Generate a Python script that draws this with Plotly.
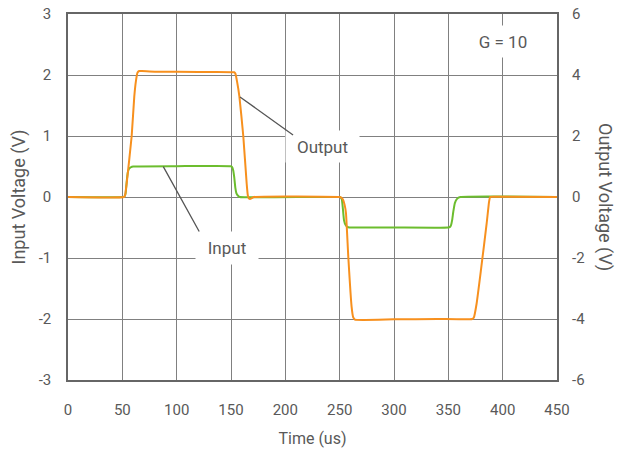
import plotly.graph_objects as go

# ---- data ----
t_input = [0, 51, 52, 53, 54, 55, 56, 58, 60, 100, 150, 151, 152, 153, 154, 155, 156.5, 158,
           250, 251, 252, 253, 254, 255.5, 257, 259, 300, 350, 351.5, 352.5, 353.5, 354.5,
           356, 358, 361, 450]
v_input = [0, 0, 0.01, 0.06, 0.25, 0.4, 0.46, 0.49, 0.5, 0.505, 0.505, 0.49, 0.44, 0.32, 0.15,
           0.06, 0.02, 0, 0, -0.01, -0.04, -0.2, -0.38, -0.46, -0.49, -0.5, -0.5, -0.5, -0.49,
           -0.46, -0.38, -0.25, -0.1, -0.03, 0, 0]

t_output = [0, 51.5, 52.5, 54, 58.6, 61, 62.5, 64, 65.5, 68, 80, 120, 153, 154, 155.5, 157.7,
            161.3, 164.4, 165.5, 166.5, 168, 171, 250, 251.5, 253, 254.5, 255.8, 258, 261,
            262.5, 264, 300, 340, 372, 373.5, 376, 380, 385.3, 387.5, 388.5, 392, 450]
v_output = [0, 0, 0.05, 0.45, 2.0, 3.3, 3.8, 4.08, 4.13, 4.13, 4.11, 4.1, 4.09, 4.05, 3.8, 3.3,
            2.0, 0.45, 0.05, -0.05, -0.06, 0, 0, -0.02, -0.08, -0.25, -0.53, -2.0, -3.6,
            -3.95, -4.02, -4.01, -4.0, -4.0, -3.95, -3.5, -2.4, -0.86, -0.15, 0, 0.01, 0]

x_ticks = [0, 50, 100, 150, 200, 250, 300, 350, 400, 450]
y_left_ticks = [-3, -2, -1, 0, 1, 2, 3]
y_right_ticks = [-6, -4, -2, 0, 2, 4, 6]

FONT = "Roboto"
TXT = "#595959"
GRID = "#808080"
FRAME = "#666666"

fig = go.Figure()
fig.add_trace(go.Scatter(x=t_input, y=v_input, mode="lines", name="Input",
                         line=dict(color="#6CBD2E", width=2, shape="spline", smoothing=0.4),
                         yaxis="y"))
fig.add_trace(go.Scatter(x=t_output, y=v_output, mode="lines", name="Output",
                         line=dict(color="#F7901E", width=2, shape="spline", smoothing=0.4),
                         yaxis="y2"))

fig.update_layout(
    width=621, height=449,
    margin=dict(l=68, r=64, t=14, b=69),
    paper_bgcolor="white", plot_bgcolor="white",
    showlegend=False,
    font=dict(family=FONT, size=15, color=TXT),
    xaxis=dict(range=[0, 450], tickvals=x_ticks, ticktext=[str(v) for v in x_ticks],
               showgrid=True, gridcolor=GRID, gridwidth=1, automargin=False,
               zeroline=False, showline=True, linecolor=FRAME, linewidth=1.5, mirror=True,
               ticks="", ticklabelstandoff=15, ticklabeloverflow="allow",
               title=dict(text="Time (us)", standoff=15, font=dict(size=16, color=TXT))),
    yaxis=dict(range=[-3, 3], tickvals=y_left_ticks, ticktext=[str(v) for v in y_left_ticks],
               showgrid=True, gridcolor=GRID, gridwidth=1, automargin=False,
               zeroline=False, showline=True, linecolor=FRAME, linewidth=1.5, mirror=True,
               ticks="", ticklabelstandoff=12, ticklabeloverflow="allow",
               title=dict(text="Input Voltage (V)", standoff=8, font=dict(size=18, color=TXT))),
    yaxis2=dict(range=[-6, 6], tickvals=y_right_ticks, ticktext=[str(v) for v in y_right_ticks],
                overlaying="y", side="right", automargin=False, ticklabeloverflow="allow",
                showgrid=False, zeroline=False, showline=False, ticks="",
                ticklabelstandoff=14),
)

# right axis title, reading top-to-bottom
fig.add_annotation(text="Output Voltage (V)", xref="paper", yref="paper", x=1, y=0.5,
                   xanchor="center", yanchor="middle", xshift=48, textangle=90,
                   showarrow=False, font=dict(size=18, color=TXT))

# labels with white boxes
labels = [
    dict(text="G = 10", x=400, y=2.55, w=70, h=29),
    dict(text="Output", x=234.5, y=0.82, w=71, h=29),
    dict(text="Input", x=146, y=-0.84, w=60, h=30),
]
for lb in labels:
    fig.add_annotation(text=lb["text"], x=lb["x"], y=lb["y"], xref="x", yref="y",
                       showarrow=False, bgcolor="white", width=lb["w"], height=lb["h"],
                       font=dict(size=17, color=TXT))

# leader lines (point on curve -> label box corner)
leaders = [
    dict(x0=158.3, y0=1.64, x1=208.5, y1=1.0),
    dict(x0=87.7, y0=0.497, x1=121.5, y1=-0.59),
]
for ld in leaders:
    fig.add_annotation(x=ld["x0"], y=ld["y0"], ax=ld["x1"], ay=ld["y1"], xref="x", yref="y",
                       axref="x", ayref="y", text="", showarrow=True, arrowhead=0,
                       arrowwidth=1.3, arrowcolor="#555555", standoff=0, startstandoff=0)

# remove the browser's default 8px body margin so the figure fills the window exactly
fig.write_html("out.html", config={"displayModeBar": False},
               post_script="document.body.style.margin='0';")
